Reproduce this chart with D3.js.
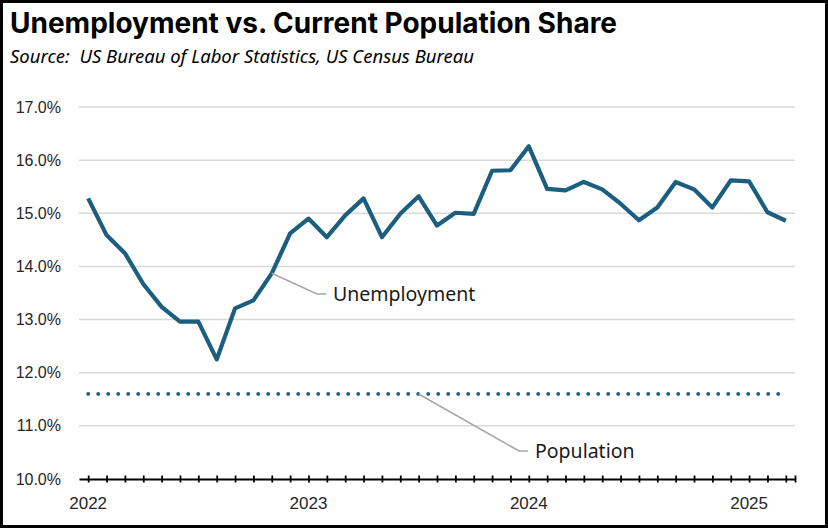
<!DOCTYPE html>
<html>
<head>
<meta charset="utf-8">
<title>Unemployment vs. Current Population Share</title>
<script src="https://cdn.jsdelivr.net/npm/d3@7"></script>
<style>
html,body{margin:0;padding:0;background:#fff;}
svg{display:block;}
</style>
</head>
<body>
<script>
// months from Jan 2022 to Mar 2025
var months=["2022-01","2022-02","2022-03","2022-04","2022-05","2022-06","2022-07","2022-08","2022-09","2022-10","2022-11","2022-12",
"2023-01","2023-02","2023-03","2023-04","2023-05","2023-06","2023-07","2023-08","2023-09","2023-10","2023-11","2023-12",
"2024-01","2024-02","2024-03","2024-04","2024-05","2024-06","2024-07","2024-08","2024-09","2024-10","2024-11","2024-12",
"2025-01","2025-02","2025-03"];
var unemployment=[15.28,14.59,14.25,13.67,13.24,12.96,12.96,12.25,13.21,13.36,13.87,14.62,
14.90,14.55,14.96,15.28,14.55,14.99,15.32,14.77,15.01,14.99,15.80,15.81,
16.26,15.46,15.43,15.59,15.45,15.18,14.87,15.11,15.59,15.45,15.11,15.62,
15.60,15.02,14.86];
var population=[11.6,11.6,11.6,11.6,11.6,11.6,11.6,11.6,11.6,11.6,11.6,11.6,
11.6,11.6,11.6,11.6,11.6,11.6,11.6,11.6,11.6,11.6,11.6,11.6,
11.6,11.6,11.6,11.6,11.6,11.6,11.6,11.6,11.6,11.6,11.6,11.6,
11.6,11.6,11.6];
var yTicks=[10,11,12,13,14,15,16,17];
var yearLabels=["2022","2023","2024","2025"];

var W=828,H=528;
var lineColor="#1b5e7f";

var svg=d3.select("body").append("svg")
	.attr("width",W)
	.attr("height",H);

svg.append("rect")
	.attr("x",1.5).attr("y",1.5)
	.attr("width",W-3).attr("height",H-3)
	.attr("fill","#fff")
	.attr("stroke","#000")
	.attr("stroke-width",3);

svg.append("text")
	.attr("x",10).attr("y",33)
	.style("font-family","Inter, Roboto, sans-serif")
	.style("font-weight","700")
	.style("font-size","28px")
	.attr("fill","#000")
	.text("Unemployment vs. Current Population Share");

svg.append("text")
	.attr("x",10).attr("y",63)
	.style("font-family","'Noto Sans', sans-serif")
	.style("font-style","italic")
	.style("font-size","18.5px")
	.style("white-space","pre")
	.attr("fill","#000")
	.text("Source:  US Bureau of Labor Statistics, US Census Bureau");

var x=d3.scaleLinear()
	.domain([-0.5,months.length-0.5])
	.range([79,795]);

var y=d3.scaleLinear()
	.domain([10,17])
	.range([479,107]);

// gridlines
svg.append("g")
	.selectAll("line")
	.data(yTicks.slice(1))
	.enter()
	.append("line")
	.attr("x1",x.range()[0])
	.attr("x2",x.range()[1])
	.attr("y1",d=>y(d))
	.attr("y2",d=>y(d))
	.attr("stroke","#d9d9d9")
	.attr("stroke-width",1.5);

// y axis labels
var yAxis=d3.axisLeft(y)
	.tickValues(yTicks)
	.tickSize(0)
	.tickPadding(0)
	.tickFormat(d=>d.toFixed(1)+"%");
var gy=svg.append("g")
	.attr("transform","translate(61,0)")
	.call(yAxis);
gy.select(".domain").remove();
gy.selectAll("text")
	.style("font-family","'Liberation Sans', Arial, sans-serif")
	.style("font-size","16px")
	.attr("fill","#262626");

// x axis
var tickVals=months.map((m,i)=>i).concat([months.length-0.5]);
var xAxis=d3.axisBottom(x)
	.tickValues(tickVals)
	.tickSizeInner(3)
	.tickSizeOuter(0)
	.tickFormat("");
var gx=svg.append("g")
	.attr("transform","translate(0,"+y(10)+")")
	.call(xAxis);
gx.select(".domain").attr("stroke","#000").attr("stroke-width",2);
gx.selectAll(".tick line")
	.attr("y1",-3.5)
	.attr("y2",3.5)
	.attr("stroke","#000")
	.attr("stroke-width",1.8);

svg.append("g")
	.selectAll("text")
	.data(yearLabels)
	.enter()
	.append("text")
	.attr("x",(d,i)=>x(i*12))
	.attr("y",509)
	.attr("text-anchor","middle")
	.style("font-family","'Liberation Sans', Arial, sans-serif")
	.style("font-size","17px")
	.attr("fill","#262626")
	.text(d=>d);

// population dotted line
var line=d3.line()
	.x((d,i)=>x(i))
	.y(d=>y(d));

svg.append("path")
	.datum(population)
	.attr("d",line)
	.attr("fill","none")
	.attr("stroke",lineColor)
	.attr("stroke-width",3.8)
	.attr("stroke-linecap","round")
	.attr("stroke-dasharray","0,10");

svg.append("path")
	.datum(unemployment)
	.attr("d",line)
	.attr("fill","none")
	.attr("stroke",lineColor)
	.attr("stroke-width",4.2)
	.attr("stroke-linejoin","round");

// annotations
function callout(i,series,x2,y2,label){
	var x1=x(i),y1=y(series[i]);
	svg.append("polyline")
		.attr("points",[[x1,y1],[x2,y2],[x2+9,y2]].map(p=>p.join(",")).join(" "))
		.attr("fill","none")
		.attr("stroke","#a6a6a6")
		.attr("stroke-width",1.6);
	svg.append("text")
		.attr("x",x2+16)
		.attr("y",y2+7)
		.style("font-family","'Noto Sans', sans-serif")
		.style("font-size","19.5px")
		.attr("fill","#1a1a1a")
		.text(label);
}
callout(10,unemployment,317,294,"Unemployment");
callout(18,population,519,451,"Population");
</script>
</body>
</html>
